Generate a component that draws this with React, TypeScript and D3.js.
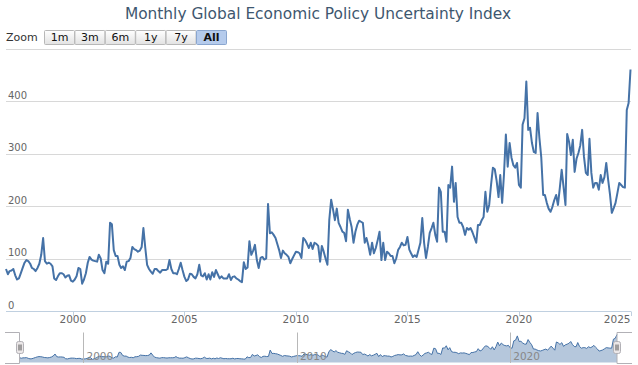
import React, { useEffect, useRef } from "react";
import * as d3 from "d3";

const startYear = 1997;

// monthly index values, Jan 1997 .. Jan 2025 (one row per year)
const monthlyIndex: number[] = [
  80, 70, 76, 77, 80, 68, 60, 62, 72, 82, 92, 97, // 1997
  95, 90, 82, 80, 76, 82, 90, 107, 139, 95, 90, 92, // 1998
  90, 85, 62, 59, 66, 72, 72, 70, 64, 67, 68, 58, // 1999
  56, 60, 66, 82, 80, 52, 60, 72, 92, 103, 98, 96, // 2000
  95, 94, 107, 100, 78, 72, 94, 90, 168, 165, 116, 105, // 2001
  105, 88, 82, 85, 78, 94, 95, 101, 122, 118, 116, 113, // 2002
  115, 122, 158, 120, 88, 80, 75, 71, 80, 80, 76, 73, // 2003
  78, 78, 78, 80, 97, 80, 72, 72, 70, 80, 92, 78, // 2004
  65, 57, 60, 71, 70, 65, 62, 70, 88, 68, 66, 72, // 2005
  60, 70, 60, 74, 65, 78, 70, 62, 66, 62, 62, 62, // 2006
  70, 59, 65, 66, 62, 60, 57, 55, 93, 80, 83, 133, // 2007
  107, 115, 126, 97, 82, 101, 103, 98, 100, 204, 148, 150, // 2008
  145, 139, 128, 116, 101, 115, 110, 107, 103, 91, 99, 106, // 2009
  113, 112, 110, 101, 139, 135, 128, 120, 130, 118, 130, 128, // 2010
  124, 94, 124, 113, 100, 88, 173, 212, 193, 173, 195, 168, // 2011
  160, 151, 149, 133, 193, 175, 160, 130, 151, 164, 172, 170, // 2012
  168, 130, 139, 125, 107, 130, 110, 120, 135, 151, 97, 130, // 2013
  97, 113, 110, 105, 105, 91, 100, 116, 122, 130, 125, 126, // 2014
  141, 117, 110, 103, 106, 103, 116, 130, 177, 130, 101, 122, // 2015
  149, 158, 168, 145, 132, 235, 227, 151, 151, 132, 240, 235, // 2016
  275, 208, 244, 179, 168, 168, 160, 145, 158, 155, 158, 150, // 2017
  140, 130, 164, 164, 173, 179, 227, 189, 202, 240, 273, 270, // 2018
  248, 217, 259, 206, 260, 336, 275, 320, 292, 278, 273, 282, // 2019
  240, 235, 355, 367, 437, 345, 349, 320, 303, 301, 377, 330, // 2020
  292, 221, 221, 206, 195, 189, 198, 211, 221, 202, 235, 269, // 2021
  236, 202, 337, 322, 297, 326, 265, 290, 301, 315, 345, 294, // 2022
  263, 259, 328, 263, 235, 244, 244, 231, 259, 244, 255, 282, // 2023
  250, 221, 187, 196, 206, 225, 244, 240, 236, 235, 383, 396, // 2024
  460, // 2025
];

const yTicks = [0, 100, 200, 300, 400, 500];
const xTickYears = [2000, 2005, 2010, 2015, 2020, 2025];
const navTickYears = [2000, 2010, 2020];
const zoomButtons = ["1m", "3m", "6m", "1y", "7y", "All"];

const title = "Monthly Global Economic Policy Uncertainty Index";
const FONT = "'DejaVu Sans', sans-serif";
const LINE = "#4572A7";

const App = () => {
  const ref = useRef<SVGSVGElement>(null);

  useEffect(() => {
    const svg = d3.select(ref.current);
    svg.selectAll("*").remove();

    const data = monthlyIndex.map((v, i) => ({
      date: new Date(startYear, i, 1),
      value: v,
    }));
    const lastDate = data[data.length - 1].date;

    const x = d3.scaleTime().domain([new Date(startYear, 0, 1), lastDate]).range([6, 630.5]);
    const y = d3.scaleLinear().domain([0, 500]).range([311, 48.5]);

    // title
    svg.append("text")
      .attr("x", 318)
      .attr("y", 18.5)
      .attr("text-anchor", "middle")
      .attr("font-family", FONT)
      .attr("font-size", "15.4px")
      .attr("fill", "#3E576F")
      .text(title);

    // range selector
    svg.append("text")
      .attr("x", 6)
      .attr("y", 41)
      .attr("font-family", FONT)
      .attr("font-size", "11px")
      .attr("fill", "#333")
      .text("Zoom");

    const defs = svg.append("defs");
    const grad = defs.append("linearGradient")
      .attr("id", "btn")
      .attr("x1", 0).attr("y1", 0).attr("x2", 0).attr("y2", 1);
    grad.append("stop").attr("offset", "0%").attr("stop-color", "#ffffff");
    grad.append("stop").attr("offset", "100%").attr("stop-color", "#e2e2e2");

    const btn = svg.append("g")
      .selectAll("g")
      .data(zoomButtons)
      .enter()
      .append("g")
      .attr("transform", (d, i) => `translate(${44.5 + i * 30.4}, 30.5)`);
    btn.append("rect")
      .attr("width", 30)
      .attr("height", 14)
      .attr("rx", 1)
      .attr("fill", d => (d === "All" ? "#b5cbec" : "url(#btn)"))
      .attr("stroke", d => (d === "All" ? "#8aa6cf" : "#b8b8b8"));
    btn.append("text")
      .attr("x", 15)
      .attr("y", 10.8)
      .attr("text-anchor", "middle")
      .attr("font-family", FONT)
      .attr("font-size", "11px")
      .attr("font-weight", d => (d === "All" ? "bold" : "normal"))
      .attr("fill", "#111")
      .text(d => d);

    // grid + y labels
    const grid = svg.append("g");
    grid.selectAll("line")
      .data(yTicks.filter(t => t > 0))
      .enter()
      .append("line")
      .attr("x1", 6)
      .attr("x2", 631)
      .attr("y1", d => Math.round(y(d)) + 0.5)
      .attr("y2", d => Math.round(y(d)) + 0.5)
      .attr("stroke", "#d8d8d8")
      .attr("stroke-width", 1);

    grid.selectAll("text")
      .data(yTicks.filter(t => t < 500))
      .enter()
      .append("text")
      .attr("x", 8)
      .attr("y", d => y(d) - 2.5)
      .attr("font-family", FONT)
      .attr("font-size", "10px")
      .attr("fill", "#666")
      .text(d => d);

    // x axis
    svg.append("line")
      .attr("x1", 6).attr("x2", 631)
      .attr("y1", 311.5).attr("y2", 311.5)
      .attr("stroke", "#C0D0E0");

    const xt = svg.append("g")
      .selectAll("g")
      .data(xTickYears)
      .enter()
      .append("g");
    xt.append("line")
      .attr("x1", d => Math.round(x(new Date(d, 0, 1))) + 0.5)
      .attr("x2", d => Math.round(x(new Date(d, 0, 1))) + 0.5)
      .attr("y1", 311.5).attr("y2", 316)
      .attr("stroke", "#C0D0E0");
    xt.append("text")
      .attr("x", d => (d === 2025 ? 630.5 : x(new Date(d, 0, 1))))
      .attr("y", 322.5)
      .attr("text-anchor", d => (d === 2025 ? "end" : "middle"))
      .attr("font-family", FONT)
      .attr("font-size", "10.5px")
      .attr("fill", "#666")
      .text(d => d);

    // series
    const line = d3.line<{ date: Date; value: number }>()
      .x(d => x(d.date))
      .y(d => y(d.value));

    svg.append("path")
      .datum(data)
      .attr("d", line)
      .attr("fill", "none")
      .attr("stroke", LINE)
      .attr("stroke-width", 2)
      .attr("stroke-linejoin", "round");

    // navigator
    const nx = d3.scaleTime().domain([new Date(startYear, 0, 1), lastDate]).range([19.5, 617]);
    const ny = d3.scaleLinear().domain([0, 460]).range([362.5, 334.5]);

    const area = d3.area<{ date: Date; value: number }>()
      .x(d => nx(d.date))
      .y0(362.5)
      .y1(d => ny(d.value));
    const navLine = d3.line<{ date: Date; value: number }>()
      .x(d => nx(d.date))
      .y(d => ny(d.value));

    svg.append("path")
      .datum(data)
      .attr("d", area)
      .attr("fill", LINE)
      .attr("fill-opacity", 0.4);
    svg.append("path")
      .datum(data)
      .attr("d", navLine)
      .attr("fill", "none")
      .attr("stroke", LINE)
      .attr("stroke-width", 1);

    const nt = svg.append("g")
      .selectAll("g")
      .data(navTickYears)
      .enter()
      .append("g");
    nt.append("line")
      .attr("x1", d => Math.round(nx(new Date(d, 0, 1))) + 0.5)
      .attr("x2", d => Math.round(nx(new Date(d, 0, 1))) + 0.5)
      .attr("y1", 332.5).attr("y2", 363)
      .attr("stroke", "#b8b8b8");
    nt.append("text")
      .attr("x", d => nx(new Date(d, 0, 1)) + 3)
      .attr("y", 359.5)
      .attr("font-family", FONT)
      .attr("font-size", "10.5px")
      .attr("fill", "#888")
      .text(d => d);

    // outline and handles
    const outline = "#b2b1b6";
    svg.append("path")
      .attr("d", "M5,332.5 H19.5 V363.5 H5 M617,332.5 H632 M617,332.5 V363.5 H632")
      .attr("fill", "none")
      .attr("stroke", outline);

    [19.5, 617].forEach(hx => {
      const g = svg.append("g").attr("transform", `translate(${Math.round(hx) - 3.5}, 341.5)`);
      g.append("rect")
        .attr("width", 7)
        .attr("height", 12)
        .attr("rx", 2)
        .attr("fill", "#ebe7e8")
        .attr("stroke", outline);
      g.append("path")
        .attr("d", "M2.5,3 V9 M4.5,3 V9")
        .attr("stroke", "#555")
        .attr("stroke-width", 1);
    });
  }, []);

  return (
    <svg
      ref={ref}
      width={638}
      height={365}
      style={{ position: "absolute", left: 0, top: 0, background: "#fff" }}
    />
  );
};

export default App;
